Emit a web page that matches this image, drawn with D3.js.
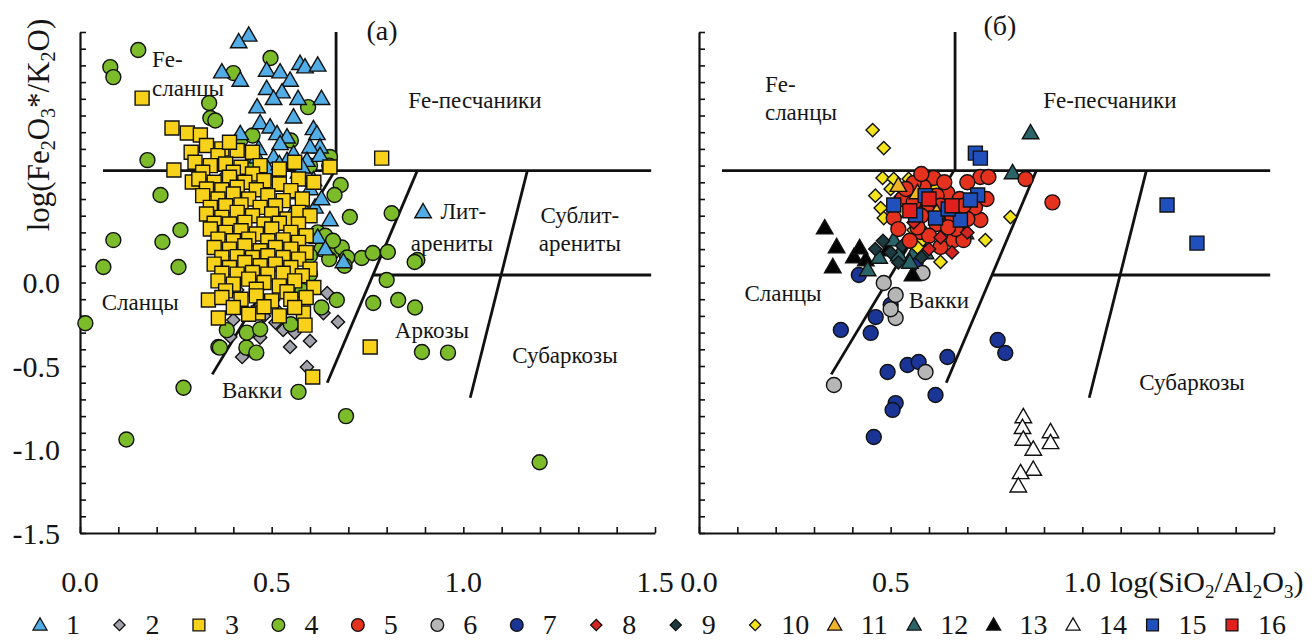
<!DOCTYPE html>
<html><head><meta charset="utf-8">
<script src="https://cdn.jsdelivr.net/npm/d3@7"></script>
<style>
body{margin:0;background:#fff}
svg{display:block}
text{font-family:"Liberation Serif","Times New Roman",serif;fill:#151515}
</style>
</head><body>
<svg id="chart" width="1312" height="643"></svg>
<script>
// ---------- DATA (log(SiO2/Al2O3), log(Fe2O3*/K2O)) ----------
const seriesIds = ["1","2","3","4","5","6","7","8","9","10","11","12","13","14","15","16"];
const xTickLabelsLeft = ["0.0","0.5","1.0","1.5"];
const xTickLabelsRight = ["0.0","0.5","1.0"];
const yTickLabels = ["0.0","-0.5","-1.0","-1.5"];

// panel (a)
const s1 = [[0.44,1.48],[0.414,1.44],[0.37,1.26],[0.418,1.21],[0.487,1.27],[0.522,1.26],[0.574,1.31],[0.587,1.29],[0.62,1.30],[0.487,1.16],[0.548,1.21],[0.527,1.14],[0.462,1.05],[0.505,1.10],[0.569,1.10],[0.63,1.10],[0.557,0.99],[0.47,0.955],[0.496,0.93],[0.418,0.89],[0.514,0.89],[0.609,0.92],[0.54,0.87],[0.618,0.89],[0.626,0.81],[0.466,0.80],[0.522,0.83],[0.557,0.77],[0.60,0.81],[0.462,0.75],[0.505,0.75],[0.54,0.73],[0.592,0.73],[0.626,0.76],[0.609,0.614],[0.613,0.45],[0.582,0.45],[0.652,0.374],[0.56,0.535],[0.687,0.123],[0.895,0.422],[0.50,0.62],[0.53,0.58],[0.57,0.66],[0.60,0.56],[0.63,0.50],[0.58,0.30],[0.62,0.27],[0.64,0.20],[0.55,0.40],[0.49,0.68],[0.52,0.71],[0.58,0.69]];
const s2 = [[0.673,-0.236],[0.548,-0.386],[0.423,-0.446],[0.449,-0.416],[0.592,-0.506],[0.53,-0.284],[0.51,-0.24],[0.52,-0.18],[0.635,-0.183],[0.645,-0.063],[0.40,-0.224],[0.392,-0.326],[0.504,-0.105],[0.41,-0.045],[0.48,-0.20],[0.56,-0.30],[0.60,-0.35],[0.47,-0.33]];
const s3 = [[0.162,1.104],[0.24,0.925],[0.28,0.895],[0.314,0.883],[0.245,0.674],[0.293,0.602],[0.787,0.745],[0.652,0.692],[0.757,-0.386],[0.607,-0.566],[0.335,-0.105],[0.361,-0.213],[0.465,-0.183],[0.583,-0.183],[0.587,-0.255],
[0.33,0.82],[0.37,0.80],[0.41,0.79],[0.36,0.76],[0.45,0.78],[0.29,0.78],[0.39,0.84],
[0.30,0.72],[0.34,0.70],[0.38,0.71],[0.42,0.69],[0.47,0.70],[0.52,0.68],[0.56,0.72],[0.32,0.66],[0.40,0.66],[0.45,0.65],
[0.31,0.62],[0.35,0.60],[0.39,0.63],[0.43,0.60],[0.48,0.61],[0.52,0.59],[0.57,0.62],[0.61,0.60],[0.33,0.56],[0.37,0.555],[0.41,0.57],[0.46,0.555],[0.55,0.55],
[0.32,0.52],[0.36,0.50],[0.40,0.53],[0.44,0.50],[0.49,0.52],[0.53,0.49],[0.58,0.50],[0.34,0.45],[0.38,0.46],[0.42,0.465],[0.47,0.45],[0.51,0.46],
[0.33,0.41],[0.37,0.39],[0.41,0.42],[0.45,0.40],[0.50,0.41],[0.54,0.38],[0.57,0.42],[0.60,0.40],[0.35,0.355],[0.39,0.35],[0.43,0.36],[0.48,0.35],[0.52,0.355],[0.57,0.35],
[0.34,0.32],[0.38,0.30],[0.42,0.31],[0.46,0.29],[0.50,0.32],[0.55,0.30],[0.59,0.28],[0.36,0.26],[0.40,0.25],[0.44,0.26],[0.49,0.25],[0.53,0.255],[0.57,0.24],
[0.35,0.21],[0.39,0.20],[0.43,0.22],[0.47,0.19],[0.51,0.21],[0.55,0.20],[0.59,0.18],[0.37,0.15],[0.41,0.155],[0.45,0.15],[0.49,0.16],[0.53,0.15],[0.57,0.14],
[0.35,0.11],[0.39,0.09],[0.43,0.12],[0.47,0.10],[0.51,0.11],[0.55,0.09],[0.60,0.08],[0.41,0.05],[0.37,0.055],[0.45,0.06],[0.49,0.05],[0.53,0.055],[0.58,0.04],
[0.36,0.01],[0.40,-0.01],[0.44,0.02],[0.48,0.00],[0.52,-0.02],[0.56,0.01],[0.61,-0.03],[0.38,-0.05],[0.46,-0.04],[0.54,-0.055],
[0.37,-0.09],[0.42,-0.10],[0.46,-0.08],[0.50,-0.11],[0.55,-0.10],[0.59,-0.09],[0.44,-0.19],[0.52,-0.20],[0.40,-0.15],[0.48,-0.145],[0.56,-0.15]];
const s4 = [[0.152,1.392],[0.079,1.29],[0.087,1.23],[0.337,1.075],[0.34,0.985],[0.353,0.97],[0.176,0.733],[0.21,0.524],[0.087,0.254],[0.061,0.093],[0.215,0.243],[0.257,0.093],[0.262,0.314],[0.014,-0.244],[0.121,-0.94],[0.27,-0.63],[0.361,-0.386],[0.434,-0.39],[0.57,-0.655],[0.694,-0.80],[0.765,-0.123],[0.83,-0.105],[0.874,-0.15],[0.892,-0.416],[0.96,-0.42],[0.88,0.135],[1.199,-1.076],[0.497,1.344],[0.40,1.254],[0.595,1.05],[0.652,0.752],[0.813,0.415],[0.873,0.123],[0.80,0.015],[0.704,0.392],[0.68,0.584],[0.664,0.524],[0.735,0.147],[0.764,0.177],[0.803,0.183],[0.657,0.18],[0.683,0.21],[0.697,0.15],
[0.62,0.30],[0.64,0.28],[0.66,0.25],[0.63,0.20],[0.60,0.16],[0.65,0.14],[0.69,0.10],[0.60,0.05],[0.383,-0.285],[0.435,-0.30],[0.365,-0.39],[0.46,-0.42],[0.67,-0.105],[0.58,-0.05],[0.55,-0.25],[0.47,-0.28],[0.63,-0.15],
[0.42,0.86],[0.45,0.88],[0.55,0.85],[0.60,0.70],[0.65,0.70],[0.45,0.70],[0.38,0.62]];

// panel (б)
const s5 = [[0.612,0.626],[0.648,0.536],[0.734,0.632],[0.755,0.632],[0.734,0.374],[0.648,0.416],[0.586,0.572],[0.508,0.386],[0.578,0.302],[0.63,0.213],[0.664,0.254],[0.69,0.254],[0.56,0.596],[0.922,0.48],[0.852,0.62],[0.53,0.50],[0.60,0.45],[0.67,0.32],[0.72,0.45],[0.62,0.35],[0.55,0.25],[0.70,0.60],
[0.58,0.65],[0.64,0.60],[0.68,0.50],[0.62,0.52],[0.66,0.40],[0.58,0.40],[0.52,0.32],[0.60,0.28],[0.70,0.38],[0.75,0.50],[0.56,0.48],[0.63,0.46],[0.54,0.56],[0.69,0.46],[0.65,0.33],[0.57,0.33]];
const s6 = [[0.352,-0.614],[0.482,-0.003],[0.513,-0.075],[0.513,-0.213],[0.591,-0.536],[0.583,0.057],[0.50,-0.16]];
const s7 = [[0.417,0.045],[0.565,0.117],[0.50,-0.135],[0.461,-0.207],[0.37,-0.284],[0.448,-0.302],[0.492,-0.536],[0.544,-0.494],[0.573,-0.476],[0.648,-0.446],[0.617,-0.674],[0.513,-0.722],[0.505,-0.763],[0.456,-0.925],[0.779,-0.344],[0.799,-0.422]];
const s8 = [[0.60,0.20],[0.66,0.18],[0.70,0.30],[0.56,0.36],[0.63,0.27]];
const s9 = [[0.48,0.25],[0.50,0.18],[0.53,0.22],[0.58,0.15],[0.46,0.20],[0.52,0.12]];
const s10 = [[0.453,0.913],[0.482,0.805],[0.8125,0.392],[0.747,0.254],[0.479,0.626],[0.508,0.62],[0.547,0.62],[0.474,0.446],[0.482,0.386],[0.544,0.548],[0.578,0.494],[0.56,0.314],[0.583,0.254],[0.63,0.123],[0.617,0.572],[0.526,0.512],[0.50,0.56],[0.46,0.52],[0.53,0.43],[0.60,0.60],[0.57,0.21]];
const s11 = [[0.57,0.536],[0.52,0.58],[0.62,0.42]];
const s12 = [[0.44,0.075],[0.508,0.254],[0.521,0.165],[0.56,0.177],[0.591,0.177],[0.664,0.296],[0.695,0.296],[0.818,0.656],[0.865,0.895],[0.47,0.15],[0.55,0.12]];
const s13 = [[0.328,0.326],[0.359,0.213],[0.349,0.093],[0.404,0.153],[0.419,0.207],[0.435,0.135],[0.492,0.195],[0.557,0.045]];
const s14 = [[0.846,-0.805],[0.844,-0.87],[0.846,-0.94],[0.872,-1.0],[0.917,-0.895],[0.917,-0.96],[0.872,-1.12],[0.839,-1.14],[0.833,-1.22]];
const s15 = [[0.508,0.464],[0.565,0.404],[0.617,0.386],[0.682,0.374],[0.727,0.524],[0.708,0.494],[0.721,0.775],[0.734,0.745],[1.221,0.464],[1.299,0.236],[0.59,0.52],[0.65,0.44]];
const s16 = [[0.60,0.50],[0.66,0.46],[0.55,0.43]];

// classification field boundaries (Herron diagram)
const fieldLines = [
  [[0.06,0.67],[1.49,0.67]],
  [[0.668,0.67],[0.668,1.5]],
  [[0.345,-0.55],[0.665,0.67]],
  [[0.645,-0.60],[0.88,0.67]],
  [[1.018,-0.69],[1.167,0.67]],
  [[0.765,0.045],[1.49,0.045]]
];

// ---------- STYLE ----------
const style = {
  "1":{shape:"tri",fill:"#52ade6"}, "2":{shape:"dia",fill:"#a2a2ac"}, "3":{shape:"sq",fill:"#f8d21a"},
  "4":{shape:"cir",fill:"#7cbb2a"}, "5":{shape:"cir",fill:"#e5321e"}, "6":{shape:"cir",fill:"#b6b6b6"},
  "7":{shape:"cir",fill:"#1b3596"}, "8":{shape:"dia",fill:"#d42424"}, "9":{shape:"dia",fill:"#1d3a40"},
  "10":{shape:"dia",fill:"#f4e41c"}, "11":{shape:"tri",fill:"#f0b428"}, "12":{shape:"tri",fill:"#2a6468"},
  "13":{shape:"tri",fill:"#000000"}, "14":{shape:"tri",fill:"#ffffff"}, "15":{shape:"sq",fill:"#2050bb"},
  "16":{shape:"sq",fill:"#e0201c"}
};
const dataById = {"1":s1,"2":s2,"3":s3,"4":s4,"5":s5,"6":s6,"7":s7,"8":s8,"9":s9,"10":s10,"11":s11,"12":s12,"13":s13,"14":s14,"15":s15,"16":s16};

const svg = d3.select("#chart");
const y = d3.scaleLinear().domain([-1.5,1.5]).range([533,32]);
const xL = d3.scaleLinear().domain([0,1.5]).range([80,655]);
const xR = d3.scaleLinear().domain([0,1.5]).range([699,1274]);

function symPath(shape, k){
  if(shape==="tri") return d3.symbol(d3.symbolTriangle, 118*k)();
  if(shape==="sq") return d3.symbol(d3.symbolSquare, 196*k)();
  if(shape==="dia") return d3.symbol(d3.symbolSquare, 88*k)();
  return d3.symbol(d3.symbolCircle, 176*k)();
}
function drawSeries(g, x, id, k){
  const st = style[id];
  g.selectAll(null).data(dataById[id]).join("path")
    .attr("d", symPath(st.shape, k))
    .attr("transform", d => `translate(${x(d[0])},${y(d[1])})` + (st.shape==="dia" ? " rotate(45)" : "") + (st.shape==="tri" ? " translate(0,1)" : ""))
    .attr("fill", st.fill).attr("stroke", "#111").attr("stroke-width", 1.4);
}

function panel(x, ids, labels, xlabs){
  const g = svg.append("g");
  const ya = d3.axisRight(y).tickValues(y.ticks(30)).tickSize(6).tickSizeOuter(0).tickFormat("");
  g.append("g").attr("transform",`translate(${x(0)},0)`).call(ya);
  const xa = d3.axisTop(x).tickValues(x.ticks(15)).tickSize(6).tickSizeOuter(0).tickFormat("");
  g.append("g").attr("transform",`translate(0,${y(-1.5)})`).call(xa);
  g.selectAll(".domain").attr("stroke","#111").attr("stroke-width",2.2);
  g.selectAll(".tick line").attr("stroke","#111").attr("stroke-width",1.6);
  g.selectAll(null).data(xlabs).join("text")
    .attr("x", d => x(+d)).attr("y", 592).attr("text-anchor","middle")
    .attr("font-size",30).text(d => d);
  g.selectAll(null).data(fieldLines).join("line")
    .attr("x1", d => x(d[0][0])).attr("y1", d => y(d[0][1]))
    .attr("x2", d => x(d[1][0])).attr("y2", d => y(d[1][1]))
    .attr("stroke","#111").attr("stroke-width",2.8);
  g.selectAll(null).data(labels).join("text")
    .attr("x", d => x(d.x)).attr("y", d => y(d.y)).attr("dy","0.33em")
    .attr("text-anchor", d => d.a || "middle")
    .attr("font-size", d => d.fs || 23).text(d => d.t);
  ids.forEach(id => drawSeries(g, x, id, 1));
  return g;
}

panel(xL, ["2","4","1","3"], [
  {t:"(a)",x:0.788,y:1.51,fs:28},
  {t:"Fe-",x:0.188,y:1.333,a:"start"},
  {t:"сланцы",x:0.188,y:1.165,a:"start"},
  {t:"Fe-песчаники",x:1.03,y:1.093},
  {t:"Лит-",x:1.0,y:0.428},
  {t:"арениты",x:0.97,y:0.236},
  {t:"Сублит-",x:1.304,y:0.404},
  {t:"арениты",x:1.304,y:0.236},
  {t:"Сланцы",x:0.157,y:-0.117},
  {t:"Аркозы",x:0.918,y:-0.284},
  {t:"Субаркозы",x:1.265,y:-0.434},
  {t:"Вакки",x:0.449,y:-0.644}
], xTickLabelsLeft);

panel(xR, ["7","6","13","14","12","9","10","5","8","11","15","16"], [
  {t:"(б)",x:0.785,y:1.54,fs:28},
  {t:"Fe-",x:0.172,y:1.189,a:"start"},
  {t:"сланцы",x:0.172,y:1.021,a:"start"},
  {t:"Fe-песчаники",x:1.072,y:1.093},
  {t:"Сланцы",x:0.219,y:-0.063},
  {t:"Вакки",x:0.626,y:-0.105},
  {t:"Субаркозы",x:1.286,y:-0.596}
], xTickLabelsRight);

svg.selectAll(null).data(yTickLabels).join("text")
  .attr("x", 60).attr("y", d => y(+d)).attr("dy","0.35em").attr("text-anchor","end")
  .attr("font-size",30).text(d => d);

const yt = svg.append("text").attr("transform","translate(49,125) rotate(-90)")
  .attr("text-anchor","middle").attr("font-size",31);
yt.append("tspan").text("log(Fe");
yt.append("tspan").attr("dy",6).attr("font-size",20).text("2");
yt.append("tspan").attr("dy",-6).text("O");
yt.append("tspan").attr("dy",6).attr("font-size",20).text("3");
yt.append("tspan").attr("dy",-6).text("*/K");
yt.append("tspan").attr("dy",6).attr("font-size",20).text("2");
yt.append("tspan").attr("dy",-6).text("O)");

const xt = svg.append("text").attr("x",1110).attr("y",592).attr("font-size",30);
xt.append("tspan").text("log(SiO");
xt.append("tspan").attr("dy",6).attr("font-size",19).text("2");
xt.append("tspan").attr("dy",-6).text("/Al");
xt.append("tspan").attr("dy",6).attr("font-size",19).text("2");
xt.append("tspan").attr("dy",-6).text("O");
xt.append("tspan").attr("dy",6).attr("font-size",19).text("3");
xt.append("tspan").attr("dy",-6).text(")");

const lg = svg.append("g");
const lgX = d3.scaleLinear().domain([0,15]).range([40,1232]);
seriesIds.forEach((id,i) => {
  const st = style[id];
  lg.append("path").attr("d", symPath(st.shape, 0.72))
    .attr("transform", `translate(${lgX(i)},625)` + (st.shape==="dia"?" rotate(45)":"") + (st.shape==="tri"?" translate(0,1)":""))
    .attr("fill", st.fill).attr("stroke","#111").attr("stroke-width",1.3);
  lg.append("text").attr("x", lgX(i)+26).attr("y", 634).attr("font-size",28).text(id);
});
</script>
</body></html>
